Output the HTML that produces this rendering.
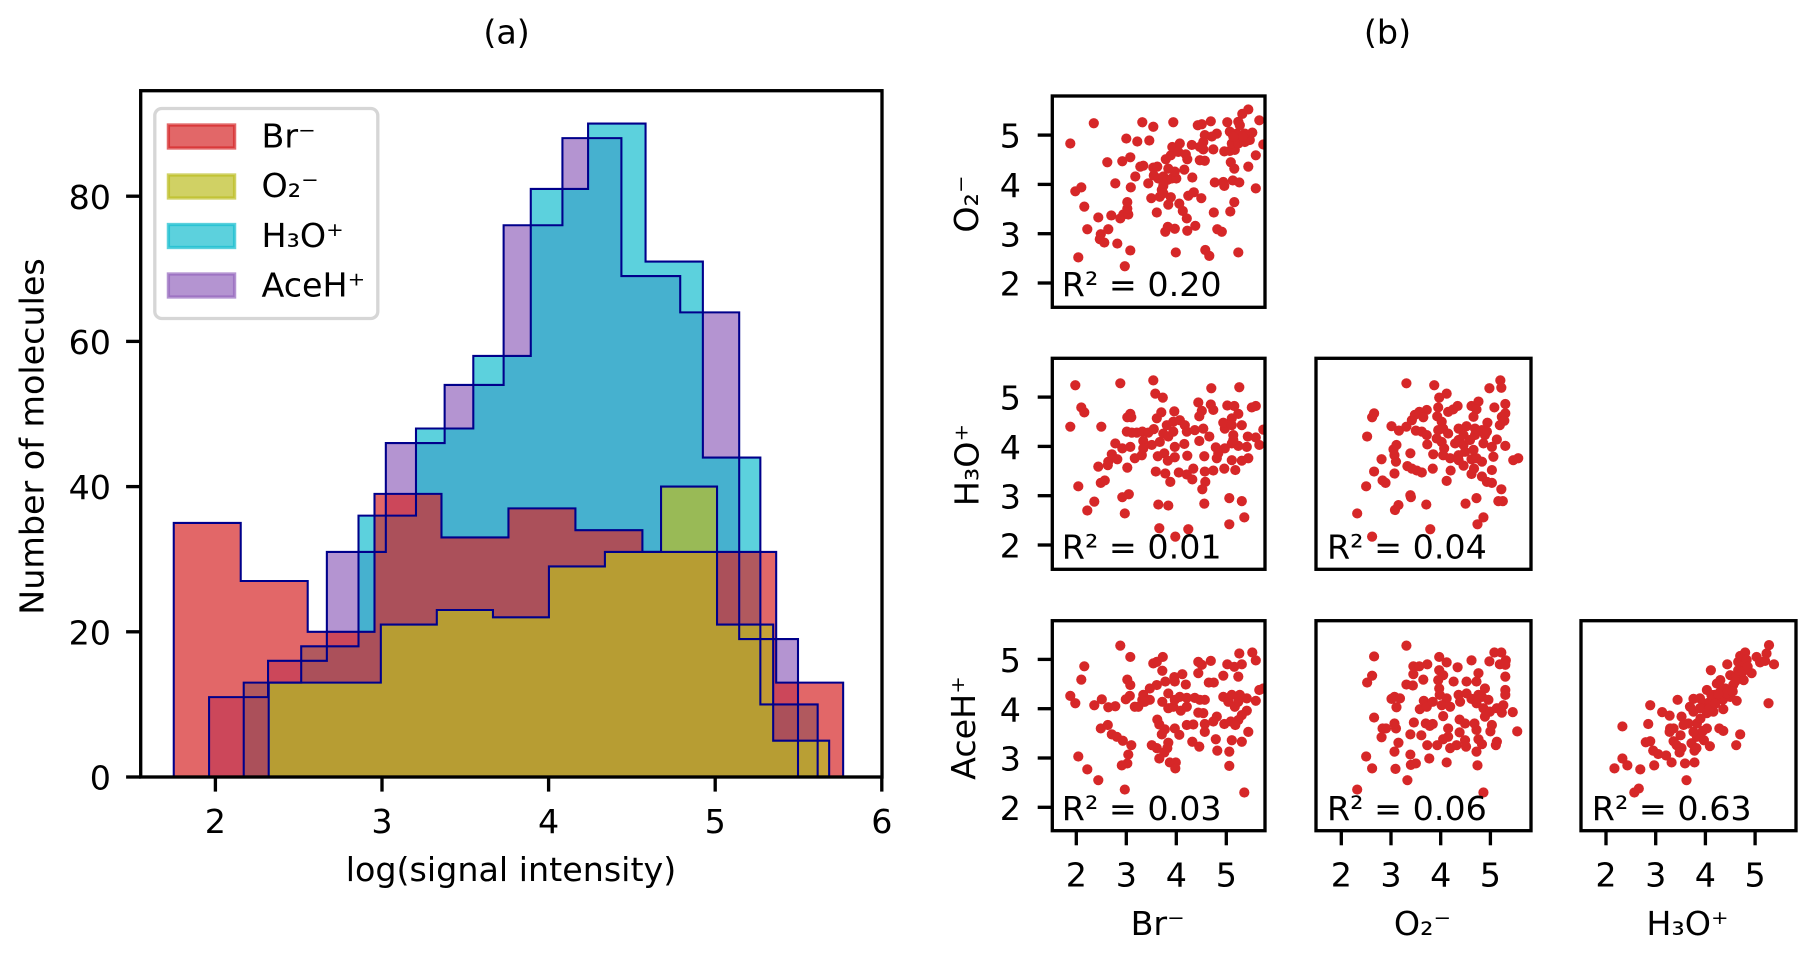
<!DOCTYPE html>
<html lang="en">
<head>
<meta charset="utf-8">
<title>Signal intensity histograms and correlations</title>
<style>
html,body{margin:0;padding:0;background:#fff;width:1816px;height:954px;overflow:hidden}
svg{display:block}
text{font-family:"DejaVu Sans","Liberation Sans",sans-serif;font-size:33.33px;fill:#000}
</style>
</head>
<body>
<svg id="figure" xmlns="http://www.w3.org/2000/svg" width="1816" height="954" viewBox="0 0 1816 954">
  <rect x="0" y="0" width="1816" height="954" fill="#fff"/>
  <text x="506.6" y="43.5" text-anchor="middle">(a)</text>
  <text x="1387.5" y="43.5" text-anchor="middle">(b)</text>
  <text x="511" y="881" text-anchor="middle">log(signal intensity)</text>
  <text x="43.5" y="436.5" text-anchor="middle" transform="rotate(-90 43.5 436.5)">Number of molecules</text>
  <g id="hist-layer"></g>
  <g id="legend">
    <rect x="154.8" y="108.5" width="223" height="210" rx="7" ry="7" fill="#fff" fill-opacity="0.8" stroke="#d6d6d6" stroke-width="3.3"/>
    <g>
      <rect x="168.4" y="125" width="66.2" height="23" fill="#d62728" fill-opacity="0.7" stroke="#d62728" stroke-opacity="0.7" stroke-width="3.3"/>
      <text x="261.5" y="147.5">Br⁻</text>
    </g>
    <g>
      <rect x="168.4" y="175" width="66.2" height="23" fill="#bcbd22" fill-opacity="0.7" stroke="#bcbd22" stroke-opacity="0.7" stroke-width="3.3"/>
      <text x="261.5" y="197">O₂⁻</text>
    </g>
    <g>
      <rect x="168.4" y="224.5" width="66.2" height="23" fill="#17becf" fill-opacity="0.7" stroke="#17becf" stroke-opacity="0.7" stroke-width="3.3"/>
      <text x="261.5" y="247">H₃O⁺</text>
    </g>
    <g>
      <rect x="168.4" y="274" width="66.2" height="23" fill="#9467bd" fill-opacity="0.7" stroke="#9467bd" stroke-opacity="0.7" stroke-width="3.3"/>
      <text x="261.5" y="296.5">AceH⁺</text>
    </g>
  </g>
  <g id="scatter-layer"></g>
</svg>
<script>
// ---- Histogram data ----
const histXTicks = [2, 3, 4, 5, 6];
const histYTicks = [0, 20, 40, 60, 80];
const aceEdges = [1.962, 2.316, 2.669, 3.023, 3.376, 3.730, 4.083, 4.437, 4.790, 5.144, 5.497];
const aceCounts = [11, 16, 31, 46, 54, 76, 88, 69, 64, 19];
const h3oEdges = [2.17, 2.515, 2.859, 3.204, 3.548, 3.893, 4.237, 4.582, 4.926, 5.271, 5.615];
const h3oCounts = [13, 18, 36, 48, 58, 81, 90, 71, 44, 10];
const brEdges = [1.75, 2.152, 2.554, 2.955, 3.357, 3.759, 4.161, 4.563, 4.964, 5.366, 5.768];
const brCounts = [35, 27, 20, 39, 33, 37, 34, 31, 31, 13];
const o2Edges = [2.32, 2.656, 2.993, 3.329, 3.666, 4.002, 4.338, 4.675, 5.011, 5.348, 5.684];
const o2Counts = [13, 13, 21, 23, 22, 29, 31, 40, 21, 5];

// ---- Scatter data: [x value, y value] ----
const brVsO2 = [[1.88,4.83],[2.35,5.24],[1.98,3.86],[2.10,3.94],[2.16,3.55],[2.44,3.33],[2.22,3.09],[2.04,2.52],[2.49,2.99],[2.47,2.89],[2.64,3.09],[2.56,2.82],[2.82,2.80],[3.08,2.66],[2.97,2.34],[2.70,3.37],[2.88,3.31],[2.94,3.39],[3.04,3.39],[3.02,3.51],[3.02,3.64],[3.09,3.94],[2.78,4.02],[2.62,4.45],[2.92,4.47],[3.08,4.55],[3.00,4.93],[3.22,4.87],[3.32,5.26],[3.54,5.17],[3.46,4.89],[3.94,5.26],[3.18,4.16],[3.28,4.36],[3.34,4.38],[3.54,4.34],[3.62,4.36],[3.44,4.02],[3.55,4.18],[3.64,4.12],[3.74,4.16],[3.82,4.09],[3.91,4.12],[4.0,4.12],[3.97,4.26],[3.84,4.32],[3.79,4.51],[3.89,4.59],[3.92,4.76],[4.07,4.83],[4.04,4.66],[4.19,4.61],[4.22,4.51],[4.16,4.30],[4.32,4.14],[3.74,3.97],[3.71,3.89],[3.5,3.72],[3.67,3.75],[3.74,3.82],[3.89,3.74],[3.84,3.59],[4.06,3.61],[4.13,3.46],[4.21,3.31],[3.61,3.43],[3.78,3.04],[3.83,3.14],[3.97,3.10],[4.22,3.06],[4.38,3.16],[3.99,2.62],[4.58,2.67],[4.66,2.55],[5.24,2.62],[4.91,3.04],[4.82,3.09],[4.75,3.43],[5.08,3.45],[5.16,3.64],[4.24,3.77],[4.35,3.84],[4.5,3.72],[4.77,4.04],[4.94,4.05],[4.96,3.97],[5.13,4.08],[5.26,4.04],[5.59,3.92],[5.16,4.32],[5.09,4.45],[5.44,4.36],[5.59,4.59],[5.74,4.81],[5.66,5.30],[5.44,5.52],[5.32,5.43],[5.24,5.27],[5.02,5.26],[4.69,5.28],[4.51,5.22],[4.43,5.2],[4.81,5.03],[4.71,4.97],[4.57,5.0],[4.54,4.86],[4.31,4.8],[4.47,4.76],[4.54,4.71],[4.47,4.49],[4.57,4.48],[4.74,4.71],[4.96,4.67],[5.07,4.68],[5.17,4.70],[5.11,4.83],[5.24,4.83],[5.37,4.86],[5.47,4.90],[5.52,5.05],[5.37,5.03],[5.21,5.03],[5.07,5.07],[5.27,5.2],[5.33,4.97],[5.14,4.97]];
const brVsH3o = [[1.88,4.40],[1.98,5.24],[2.10,4.79],[2.16,4.69],[2.5,4.4],[2.04,3.19],[2.44,3.59],[2.63,3.62],[2.64,3.69],[2.71,3.84],[2.82,3.74],[2.78,4.06],[2.92,3.96],[3.08,3.99],[3.02,3.57],[2.49,3.26],[2.57,3.31],[2.22,2.70],[2.36,2.88],[2.92,2.97],[3.05,3.03],[2.97,2.64],[2.88,5.28],[3.54,5.34],[3.58,5.07],[3.73,4.99],[3.02,4.59],[3.08,4.66],[3.1,4.59],[3.01,4.30],[3.11,4.28],[3.21,4.28],[3.32,4.30],[3.44,4.28],[3.55,4.35],[3.61,4.57],[3.7,4.69],[3.96,4.71],[3.34,4.11],[3.51,4.03],[3.34,3.96],[3.31,3.82],[3.17,3.76],[3.67,4.09],[3.74,4.26],[3.84,4.2],[3.81,4.43],[3.94,4.5],[4.07,4.53],[4.17,4.43],[4.21,4.3],[3.94,4.3],[3.97,3.99],[4.16,4.05],[4.37,4.33],[4.54,4.36],[4.66,4.2],[4.46,4.11],[3.63,3.8],[3.76,3.86],[3.83,3.71],[3.97,3.78],[4.22,3.81],[4.56,3.8],[3.59,3.49],[3.78,3.45],[3.88,3.28],[4.05,3.47],[4.21,3.43],[4.34,3.55],[4.32,3.33],[4.57,3.49],[4.74,3.51],[4.58,3.28],[4.52,3.13],[3.64,2.82],[3.84,2.8],[4.56,2.84],[3.66,2.34],[3.98,2.17],[4.24,2.32],[5.06,2.42],[5.36,2.56],[5.31,2.89],[5.06,2.95],[4.96,3.55],[5.18,3.52],[5.11,3.72],[5.31,3.71],[5.44,3.76],[4.81,3.76],[4.79,3.98],[4.97,3.96],[5.11,4.06],[5.24,4.01],[5.41,3.99],[5.66,4.03],[5.43,4.2],[5.59,4.18],[5.74,4.34],[5.14,4.23],[4.97,4.36],[4.94,4.48],[5.11,4.57],[5.31,4.43],[5.24,4.66],[5.02,4.83],[5.16,4.82],[5.51,4.79],[5.59,4.82],[5.26,5.2],[4.7,5.18],[4.44,4.89],[4.69,4.85],[4.74,4.74],[4.51,4.72],[4.46,4.61],[5.11,4.43],[5.14,4.13],[4.84,3.86]];
const o2VsH3o = [[2.32,2.64],[2.62,2.17],[2.5,3.19],[2.52,4.2],[2.62,4.59],[2.66,4.67],[2.81,3.74],[2.66,3.49],[2.83,3.31],[2.89,3.26],[3.07,3.45],[3.1,3.69],[3.07,3.82],[3.05,3.94],[3.11,4.03],[3.01,4.41],[3.16,4.32],[3.31,4.4],[3.42,4.53],[3.48,4.64],[3.57,4.7],[3.72,4.74],[3.65,4.59],[3.5,4.32],[3.62,4.3],[3.72,4.23],[3.73,4.04],[3.39,3.86],[3.33,3.6],[3.42,3.55],[3.52,3.51],[3.62,3.47],[3.84,3.55],[3.85,3.84],[3.39,3.01],[3.4,2.97],[3.15,2.81],[3.08,2.71],[3.71,2.82],[3.79,2.32],[3.31,5.28],[3.87,5.24],[3.97,4.99],[4.12,5.07],[3.95,4.79],[3.93,4.61],[4.02,4.5],[4.05,4.36],[4.15,4.26],[3.95,4.33],[3.92,4.16],[4.02,4.09],[4.07,3.96],[4.05,3.82],[4.19,3.76],[4.36,3.82],[4.36,3.72],[4.46,3.61],[4.2,3.51],[4.12,3.3],[4.15,4.7],[4.25,4.75],[4.34,4.82],[4.36,4.36],[4.52,4.41],[4.36,4.13],[4.46,4.23],[4.29,4.06],[4.46,4.03],[4.59,4.13],[4.69,4.23],[4.69,4.36],[4.83,4.33],[4.94,4.48],[4.89,4.23],[4.86,4.06],[4.66,3.93],[4.49,3.89],[5.13,4.14],[5.03,3.99],[4.93,4.3],[5.3,4.01],[4.62,4.82],[4.76,4.91],[4.72,4.75],[4.66,4.6],[5.08,4.79],[5.3,4.86],[5.3,4.67],[5.23,4.6],[5.28,4.52],[5.19,4.43],[4.98,5.18],[5.2,5.34],[5.22,5.19],[4.62,3.74],[4.72,3.76],[4.83,3.69],[4.67,3.55],[4.62,3.44],[4.83,3.39],[4.93,3.28],[5.03,3.26],[5.03,3.52],[5.06,3.79],[5.46,3.72],[5.56,3.76],[5.22,3.13],[5.16,2.89],[5.25,2.89],[4.72,2.95],[4.5,2.84],[4.86,2.56],[4.74,2.42]];
const brVsAce = [[1.88,4.26],[1.98,4.11],[2.1,4.59],[2.16,4.86],[2.04,3.03],[2.22,2.77],[2.44,2.55],[2.97,2.36],[2.88,5.28],[3.08,5.05],[3.02,4.59],[3.08,4.48],[3.07,4.26],[2.99,4.19],[2.51,4.19],[2.36,4.07],[2.64,4.03],[2.78,4.05],[2.49,3.6],[2.63,3.67],[2.71,3.48],[2.81,3.43],[2.93,3.35],[3.1,3.26],[3.04,3.07],[3.02,2.89],[2.91,2.85],[3.17,4.04],[3.24,4.04],[3.32,4.18],[3.34,4.28],[3.47,4.41],[3.61,4.48],[3.54,4.92],[3.61,4.95],[3.73,5.05],[3.72,4.77],[3.78,4.55],[3.96,4.64],[3.97,4.55],[4.12,4.7],[4.19,4.49],[3.47,4.18],[3.37,4.14],[3.72,4.14],[3.84,4.31],[3.84,4.01],[3.94,4.04],[3.97,4.18],[4.07,4.24],[4.09,3.96],[4.21,4.04],[4.21,4.22],[4.37,4.22],[4.47,4.18],[4.57,4.18],[4.44,3.92],[4.54,3.91],[4.81,3.84],[4.74,3.74],[4.57,3.69],[4.57,3.53],[3.62,3.78],[3.66,3.68],[3.77,3.58],[3.71,3.48],[3.97,3.6],[4.06,3.47],[4.21,3.67],[4.34,3.68],[3.51,3.26],[3.61,3.2],[3.84,3.31],[3.82,3.2],[3.76,3.11],[3.66,2.99],[3.87,2.91],[3.99,2.91],[3.98,2.79],[4.32,3.33],[4.46,3.23],[4.79,3.38],[4.82,3.15],[4.44,4.72],[4.44,4.95],[4.51,4.89],[4.69,4.97],[4.65,4.53],[4.75,4.53],[4.94,4.67],[5.02,4.9],[5.16,4.85],[5.31,4.9],[5.24,4.65],[5.26,5.12],[5.52,5.14],[5.59,4.98],[5.66,4.38],[5.74,4.41],[5.59,4.16],[5.41,4.21],[5.27,4.28],[4.94,4.24],[5.04,4.14],[5.17,4.04],[5.11,4.28],[5.24,4.14],[5.41,3.96],[5.31,3.87],[5.24,3.77],[4.96,3.69],[5.09,3.74],[5.18,3.67],[5.44,3.53],[5.31,3.33],[5.11,3.36],[5.06,3.13],[5.06,2.84],[5.36,2.3]];
const o2VsAce = [[2.32,2.36],[2.62,2.79],[2.5,3.03],[2.52,4.53],[2.62,4.67],[2.66,5.06],[2.66,3.82],[2.81,3.42],[2.83,3.6],[2.9,3.6],[3.09,2.78],[3.07,3.13],[3.15,3.31],[3.1,3.6],[3.07,3.7],[3.11,4.03],[3.01,4.2],[3.07,4.24],[3.18,4.21],[3.31,4.49],[3.44,4.47],[3.45,4.7],[3.45,4.86],[3.57,4.86],[3.73,4.9],[3.65,4.59],[3.31,5.28],[3.39,3.48],[3.46,3.72],[3.61,3.46],[3.39,3.07],[3.4,2.86],[3.5,2.89],[3.33,2.55],[3.77,2.99],[3.73,3.26],[3.93,3.26],[3.7,3.7],[3.78,3.65],[3.84,3.69],[4.05,3.85],[3.58,3.99],[3.66,4.16],[3.72,4.04],[3.84,4.14],[3.97,5.05],[4.12,4.94],[4.34,4.84],[3.97,4.78],[4.05,4.68],[3.95,4.58],[3.97,4.41],[3.98,4.28],[4.12,4.21],[4.02,4.07],[4.19,4.04],[4.26,4.55],[4.52,4.55],[4.36,4.28],[4.39,4.14],[4.52,4.31],[4.62,4.2],[4.76,4.28],[4.62,4.98],[4.76,4.72],[4.72,4.55],[4.89,4.41],[4.83,4.24],[4.96,4.18],[4.72,4.11],[4.86,4.01],[4.99,3.94],[4.89,3.84],[5.13,4.01],[5.23,3.92],[5.26,4.07],[5.45,3.93],[5.54,3.54],[5.3,4.38],[5.3,4.28],[5.3,4.65],[4.98,4.96],[5.08,5.14],[5.22,5.14],[5.19,4.9],[5.31,4.98],[5.3,4.89],[4.38,3.78],[4.49,3.7],[4.68,3.7],[4.72,3.57],[5.03,3.67],[5.0,3.54],[4.15,3.6],[4.38,3.52],[4.15,3.43],[4.05,3.38],[4.19,3.2],[4.32,3.26],[4.49,3.36],[4.51,3.23],[4.76,3.38],[4.83,3.28],[4.72,3.13],[5.13,3.33],[5.11,3.26],[4.12,2.91],[4.74,2.85],[4.86,2.3]];
const h3oVsAce = [[2.17,2.79],[2.33,2.99],[2.43,2.85],[2.33,3.64],[2.57,2.3],[2.66,2.38],[2.69,2.77],[2.97,2.85],[2.89,4.07],[2.85,3.69],[2.8,3.32],[2.89,3.34],[2.95,3.15],[3.05,3.08],[3.21,3.05],[3.32,2.91],[3.13,3.93],[3.28,3.86],[3.44,4.18],[3.29,3.6],[3.28,3.53],[3.36,3.6],[3.5,3.46],[3.36,3.34],[3.42,3.26],[3.52,3.2],[3.48,3.11],[3.59,2.89],[3.78,2.91],[3.62,2.55],[3.78,3.15],[3.72,3.3],[3.83,3.43],[3.76,3.53],[3.83,3.7],[3.66,3.7],[3.52,3.84],[3.56,3.67],[4.03,3.6],[3.97,3.36],[4.09,3.24],[4.28,3.6],[4.36,3.55],[4.7,3.48],[4.62,3.26],[5.27,4.11],[3.76,3.94],[3.69,4.04],[3.76,4.2],[3.89,4.21],[4.03,4.38],[3.96,4.11],[4.03,3.91],[4.16,3.94],[4.06,4.04],[4.23,4.18],[4.36,3.99],[4.35,4.18],[4.19,4.28],[4.5,4.24],[4.63,4.16],[4.23,4.51],[4.3,4.58],[4.4,4.41],[4.56,4.48],[4.5,4.68],[4.63,4.66],[4.77,4.58],[4.93,4.72],[4.11,4.78],[4.44,4.9],[4.66,4.95],[4.7,5.07],[4.8,5.14],[4.83,4.99],[4.73,4.85],[5.03,5.05],[5.1,4.94],[5.23,5.12],[5.28,5.29],[5.2,4.97],[5.38,4.9],[4.66,4.78],[4.3,4.34],[4.09,4.14],[3.89,4.01],[4.43,4.31],[4.12,4.28],[4.26,4.3],[4.08,4.0],[4.2,4.1],[4.6,4.55],[4.75,4.75],[4.85,4.85],[4.55,4.35],[3.9,3.8],[3.95,3.55],[3.82,3.2]];

const scatterTicks = [2, 3, 4, 5];
const rSquaredLabels = ['R² = 0.20', 'R² = 0.01', 'R² = 0.04', 'R² = 0.03', 'R² = 0.06', 'R² = 0.63'];
const speciesLabels = ['Br⁻', 'O₂⁻', 'H₃O⁺', 'AceH⁺'];

// ---- Drawing ----
const NS = 'http://www.w3.org/2000/svg';
function mk(tag, parent, attrs) {
  const el = document.createElementNS(NS, tag);
  for (const k in attrs) el.setAttribute(k, attrs[k]);
  parent.appendChild(el);
  return el;
}
const SPINE = 3.33, TICK = 14.6;

// Histogram axes
const histLayer = document.getElementById('hist-layer');
const histBox = {l: 140.7, r: 882, t: 90.7, b: 777};
const histX = v => 215.4 + (v - 2) * 166.6;
const histY = v => histBox.b - v * 7.26;

const defs = mk('defs', histLayer, {});
const histClip = mk('clipPath', defs, {id: 'hist-clip'});
mk('rect', histClip, {x: histBox.l, y: histBox.t, width: histBox.r - histBox.l, height: histBox.b - histBox.t + 2});

const histBg = mk('rect', histLayer, {x: histBox.l, y: histBox.t, width: histBox.r - histBox.l, height: histBox.b - histBox.t, fill: '#fff'});



function stepPath(edges, counts) {
  let d = 'M' + histX(edges[0]).toFixed(2) + ' ' + histY(0).toFixed(2);
  counts.forEach((c, i) => {
    d += 'V' + histY(c).toFixed(2) + 'H' + histX(edges[i + 1]).toFixed(2);
  });
  d += 'V' + histY(0).toFixed(2) + 'Z';
  return d;
}
const histSeries = [
  {key: 'aceh', edges: aceEdges, counts: aceCounts, color: '#9467bd'},
  {key: 'h3o', edges: h3oEdges, counts: h3oCounts, color: '#17becf'},
  {key: 'br', edges: brEdges, counts: brCounts, color: '#d62728'},
  {key: 'o2', edges: o2Edges, counts: o2Counts, color: '#bcbd22'}
];
histSeries.forEach(s => {
  const fill = mk('path', histLayer, {d: stepPath(s.edges, s.counts), fill: s.color, 'fill-opacity': 0.7, 'clip-path': 'url(#hist-clip)'});
  
  
});
histSeries.forEach(s => {
  const line = mk('path', histLayer, {d: stepPath(s.edges, s.counts), fill: 'none', stroke: '#00008b', 'stroke-width': 2.08, 'clip-path': 'url(#hist-clip)'});
  
  
});

const histFrame = mk('rect', histLayer, {x: histBox.l, y: histBox.t, width: histBox.r - histBox.l, height: histBox.b - histBox.t, fill: 'none', stroke: '#000', 'stroke-width': SPINE});



histXTicks.forEach(v => {
  const x = histX(v);
  const t = mk('line', histLayer, {x1: x, x2: x, y1: histBox.b, y2: histBox.b + TICK, stroke: '#000', 'stroke-width': SPINE});
  
  
  const lab = mk('text', histLayer, {x: x, y: 833, 'text-anchor': 'middle'});
  lab.textContent = String(v);
  
  
});
histYTicks.forEach(v => {
  const y = histY(v);
  const t = mk('line', histLayer, {x1: histBox.l - TICK, x2: histBox.l, y1: y, y2: y, stroke: '#000', 'stroke-width': SPINE});
  
  
  const lab = mk('text', histLayer, {x: 111, y: y + 12.6, 'text-anchor': 'end'});
  lab.textContent = String(v);
  
  
});

// Scatter grid
const scatterLayer = document.getElementById('scatter-layer');
const cols = [
  {l: 1052.3, r: 1265, tick2: 1076.3, unit: 50, labelX: 1061.8},
  {l: 1316, r: 1531, tick2: 1341.3, unit: 49.7, labelX: 1327},
  {l: 1581, r: 1796, tick2: 1606, unit: 49.7, labelX: 1591.8}
];
const rows = [
  {t: 96, b: 307.3, tick2: 283, unit: 49.3, labelY: 296, titleX: 978, titleY: 204},
  {t: 358.3, b: 569.3, tick2: 545, unit: 49.3, labelY: 558.3, titleX: 978.5, titleY: 465},
  {t: 620.7, b: 830.7, tick2: 807.3, unit: 49.3, labelY: 820, titleX: 975, titleY: 728}
];
const scatterPanels = [
  {id: 'br-o2', col: 0, row: 0, pts: brVsO2, r2: 0},
  {id: 'br-h3o', col: 0, row: 1, pts: brVsH3o, r2: 1},
  {id: 'o2-h3o', col: 1, row: 1, pts: o2VsH3o, r2: 2},
  {id: 'br-aceh', col: 0, row: 2, pts: brVsAce, r2: 3},
  {id: 'o2-aceh', col: 1, row: 2, pts: o2VsAce, r2: 4},
  {id: 'h3o-aceh', col: 2, row: 2, pts: h3oVsAce, r2: 5}
];
scatterPanels.forEach(p => {
  const c = cols[p.col], r = rows[p.row];
  const g = mk('g', scatterLayer, {});
  
  
  const clip = mk('clipPath', g, {id: 'clip-' + p.id});
  mk('rect', clip, {x: c.l, y: r.t, width: c.r - c.l, height: r.b - r.t});
  const sx = v => c.tick2 + (v - 2) * c.unit;
  const sy = v => r.tick2 - (v - 2) * r.unit;
  const dots = mk('g', g, {'clip-path': 'url(#clip-' + p.id + ')', fill: '#d62728'});
  
  
  p.pts.forEach((pt, i) => {
    const dot = mk('circle', dots, {cx: sx(pt[0]).toFixed(2), cy: sy(pt[1]).toFixed(2), r: 5.1});
    
    
  });
  const lab = mk('text', g, {x: c.labelX, y: r.labelY});
  lab.textContent = rSquaredLabels[p.r2];
  
  
  const frame = mk('rect', g, {x: c.l, y: r.t, width: c.r - c.l, height: r.b - r.t, fill: 'none', stroke: '#000', 'stroke-width': SPINE});
  
  
  if (p.col === 0) {
    scatterTicks.forEach(v => {
      const y = sy(v);
      const t = mk('line', g, {x1: c.l - TICK, x2: c.l, y1: y, y2: y, stroke: '#000', 'stroke-width': SPINE});
      
      
      const tl = mk('text', g, {x: 1021, y: y + 12.6, 'text-anchor': 'end'});
      tl.textContent = String(v);
      
      
    });
    const yt = mk('text', g, {x: r.titleX, y: r.titleY, 'text-anchor': 'middle', transform: 'rotate(-90 ' + r.titleX + ' ' + r.titleY + ')'});
    yt.textContent = speciesLabels[p.row + 1];
    
    
  }
  if (p.row === 2) {
    scatterTicks.forEach(v => {
      const x = sx(v);
      const t = mk('line', g, {x1: x, x2: x, y1: r.b, y2: r.b + TICK, stroke: '#000', 'stroke-width': SPINE});
      
      
      const tl = mk('text', g, {x: x, y: 886.7, 'text-anchor': 'middle'});
      tl.textContent = String(v);
      
      
    });
    const xt = mk('text', g, {x: (c.l + c.r) / 2 - 1, y: 935, 'text-anchor': 'middle'});
    xt.textContent = speciesLabels[p.col];
    
    
  }
});
document.getElementById('figure').appendChild(document.getElementById('legend'));
</script>
</body>
</html>
